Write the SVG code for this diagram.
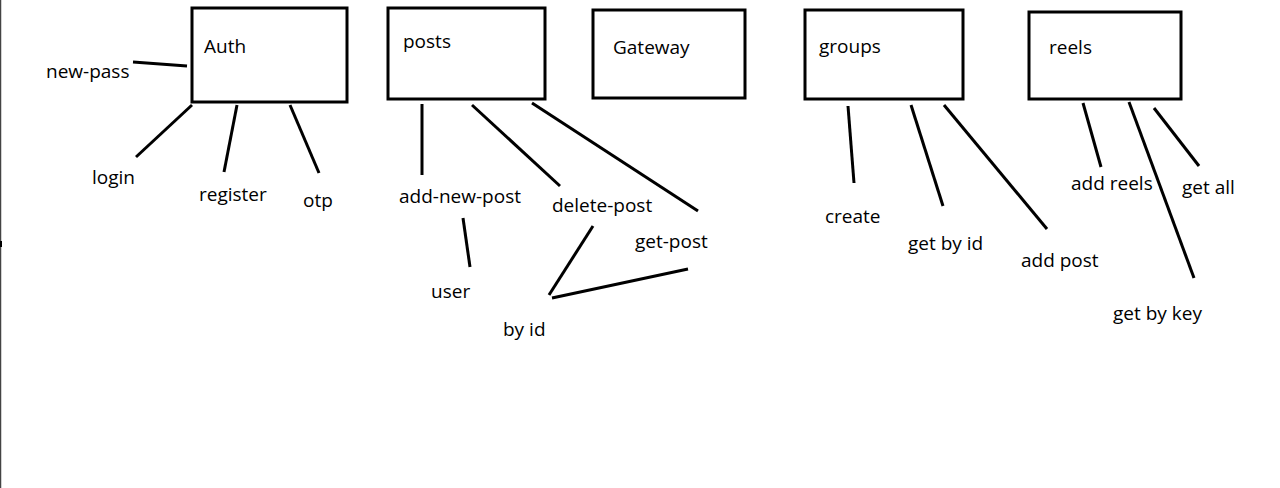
<svg xmlns="http://www.w3.org/2000/svg" width="1280" height="488" viewBox="0 0 1280 488">
<style>
.box{fill:#fff;stroke:#000;stroke-width:3}
.ln{stroke:#000;stroke-width:3;stroke-linecap:butt;fill:none}
text{font-family:"Open Sans","Noto Sans",sans-serif;font-size:19px;fill:#000}
</style>
<rect width="1280" height="488" fill="#fff"/>
<line x1="0.5" y1="0" x2="0.5" y2="488" stroke="#444" stroke-width="1.5"/>
<rect x="0" y="241" width="2" height="6" fill="#000"/>
<g id="auth"><rect class="box" x="192" y="8" width="155" height="94"/><text x="204" y="53">Auth</text></g>
<g id="posts"><rect class="box" x="388" y="8" width="157" height="91"/><text x="403" y="48">posts</text></g>
<g id="gateway"><rect class="box" x="593" y="10" width="152" height="88"/><text x="613" y="54">Gateway</text></g>
<g id="groups"><rect class="box" x="805" y="10" width="158" height="89"/><text x="819" y="53">groups</text></g>
<g id="reels"><rect class="box" x="1029" y="12" width="152" height="87"/><text x="1049" y="54">reels</text></g>
<g id="labels">
<g id="new-pass"><text x="46" y="78">new-pass</text></g>
<g id="login"><text x="92" y="184">login</text></g>
<g id="register"><text x="199" y="201">register</text></g>
<g id="otp"><text x="303" y="207">otp</text></g>
<g id="add-new-post"><text x="399" y="203">add-new-post</text></g>
<g id="delete-post"><text x="552" y="212">delete-post</text></g>
<g id="get-post"><text x="635" y="248">get-post</text></g>
<g id="user"><text x="431" y="298">user</text></g>
<g id="by-id"><text x="503" y="336">by id</text></g>
<g id="create"><text x="825" y="223">create</text></g>
<g id="get-by-id"><text x="908" y="250">get by id</text></g>
<g id="add-post"><text x="1021" y="267">add post</text></g>
<g id="add-reels"><text x="1071" y="190">add reels</text></g>
<g id="get-by-key"><text x="1113" y="320">get by key</text></g>
<g id="get-all"><text x="1182" y="194">get all</text></g>
</g>
<g id="connectors">
<line class="ln" x1="133" y1="62" x2="187" y2="66"/>
<line class="ln" x1="192" y1="105" x2="136" y2="157"/>
<line class="ln" x1="237" y1="105" x2="224" y2="172"/>
<line class="ln" x1="290" y1="105" x2="319" y2="173"/>
<line class="ln" x1="422" y1="104" x2="422" y2="175"/>
<line class="ln" x1="472" y1="105" x2="560" y2="186"/>
<line class="ln" x1="532" y1="103" x2="698" y2="211"/>
<line class="ln" x1="463" y1="218" x2="470" y2="267"/>
<line class="ln" x1="593" y1="226" x2="549" y2="295"/>
<line class="ln" x1="552" y1="298" x2="688" y2="269"/>
<line class="ln" x1="848" y1="106" x2="854" y2="183"/>
<line class="ln" x1="911" y1="105" x2="943" y2="206"/>
<line class="ln" x1="944" y1="105" x2="1047" y2="229"/>
<line class="ln" x1="1083" y1="103" x2="1101" y2="167"/>
<line class="ln" x1="1129" y1="102" x2="1194" y2="278"/>
<line class="ln" x1="1154" y1="108" x2="1199" y2="166"/>
</g>
</svg>
